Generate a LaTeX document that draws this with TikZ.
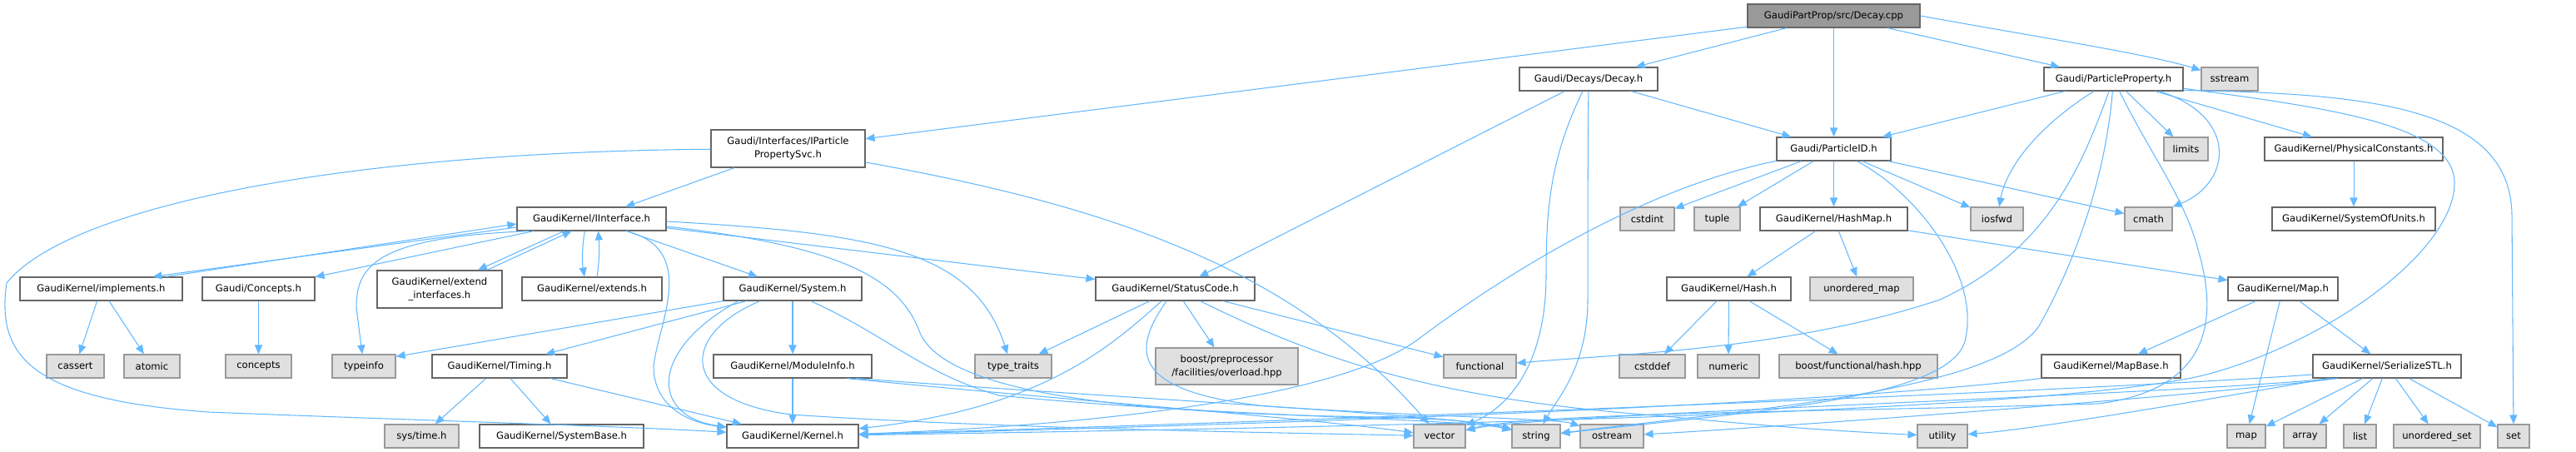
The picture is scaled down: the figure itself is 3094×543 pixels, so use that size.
\documentclass[tikz,border=0pt]{standalone}
\usepackage{fontspec}
\setmainfont{DejaVu Sans}
\usetikzlibrary{arrows.meta,calc}
\definecolor{edgec}{HTML}{63B8FF}
\definecolor{bdark}{HTML}{666666}
\definecolor{blight}{HTML}{999999}
\definecolor{fext}{HTML}{E0E0E0}
\definecolor{froot}{HTML}{999999}
\newcommand\bx[7]{%
  \pgfmathsetmacro\bxw{(#5-#3)*0.01}%
  \pgfmathsetmacro\bxh{(#6-#4)*0.01}%
  \pgfmathsetmacro\bxx{(#3+#5)/2}%
  \pgfmathsetmacro\bxy{(#4+#6)/2}%
  \node[#2, minimum width=\bxw cm, minimum height=\bxh cm] (#1) at (\bxx,\bxy) {#7};}
\tikzset{
  nb/.style={rectangle, draw=bdark, fill=white, line width=0.35pt, inner sep=0pt, align=center, text=black},
  ext/.style={nb, draw=blight, fill=fext},
  rootn/.style={nb, fill=froot},
  ed/.style={draw=edgec, line width=0.3pt, -{Triangle[length=3.1pt,width=2.6pt]}}
}
\begin{document}
\begin{tikzpicture}[x=0.01cm, y=-0.01cm, font=\fontsize{3.3pt}{4.6pt}\selectfont]
\useasboundingbox (0,0) rectangle (3094,543);
% row 0/1
\bx{root}{rootn}{2099}{5}{2306}{33}{GaudiPartProp/src/Decay.cpp}
\bx{decay}{nb}{1825}{81}{1991}{109}{Gaudi/Decays/Decay.h}
\bx{pprop}{nb}{2455}{81}{2622}{109}{Gaudi/ParticleProperty.h}
\bx{sstream}{ext}{2644}{81}{2712}{109}{sstream}
% row 2
\bx{ipps}{nb}{854}{156}{1039}{201}{Gaudi/Interfaces/IParticle\\PropertySvc.h}
\bx{pid}{nb}{2134}{165}{2271}{193}{Gaudi/ParticleID.h}
\bx{limits}{ext}{2599}{165}{2652}{193}{limits}
\bx{physc}{nb}{2720}{165}{2934}{193}{GaudiKernel/PhysicalConstants.h}
% row 3
\bx{iinterface}{nb}{621}{249}{800}{277}{GaudiKernel/IInterface.h}
\bx{cstdint}{ext}{1946}{249}{2011}{277}{cstdint}
\bx{tuple}{ext}{2035}{249}{2090}{277}{tuple}
\bx{hashmap}{nb}{2114}{249}{2291}{277}{GaudiKernel/HashMap.h}
\bx{iosfwd}{ext}{2367}{249}{2430}{277}{iosfwd}
\bx{cmath}{ext}{2552}{249}{2609}{277}{cmath}
\bx{sou}{nb}{2729}{249}{2925}{277}{GaudiKernel/SystemOfUnits.h}
% row 4
\bx{impl}{nb}{24}{333}{219}{361}{GaudiKernel/implements.h}
\bx{conch}{nb}{243}{333}{378}{361}{Gaudi/Concepts.h}
\bx{extendi}{nb}{453}{325}{603}{370}{GaudiKernel/extend\\\_interfaces.h}
\bx{extends}{nb}{627}{333}{795}{361}{GaudiKernel/extends.h}
\bx{system}{nb}{869}{333}{1035}{361}{GaudiKernel/System.h}
\bx{statuscode}{nb}{1316}{333}{1507}{361}{GaudiKernel/StatusCode.h}
\bx{hash}{nb}{2002}{333}{2151}{361}{GaudiKernel/Hash.h}
\bx{umap}{ext}{2174}{333}{2298}{361}{unordered\_map}
\bx{maph}{nb}{2676}{333}{2808}{361}{GaudiKernel/Map.h}
% row 5
\bx{cassert}{ext}{56}{426}{125}{454}{cassert}
\bx{atomic}{ext}{149}{426}{216}{454}{atomic}
\bx{concepts}{ext}{271}{426}{350}{454}{concepts}
\bx{typeinfo}{ext}{399}{426}{475}{454}{typeinfo}
\bx{timing}{nb}{519}{426}{681}{454}{GaudiKernel/Timing.h}
\bx{modinfo}{nb}{857}{426}{1047}{454}{GaudiKernel/ModuleInfo.h}
\bx{typetraits}{ext}{1171}{426}{1263}{454}{type\_traits}
\bx{boostpp}{ext}{1388}{418}{1559}{462}{boost/preprocessor\\/facilities/overload.hpp}
\bx{functional}{ext}{1734}{426}{1821}{454}{functional}
\bx{cstddef}{ext}{1945}{426}{2024}{454}{cstddef}
\bx{numeric}{ext}{2039}{426}{2113}{454}{numeric}
\bx{boosthash}{ext}{2137}{426}{2327}{454}{boost/functional/hash.hpp}
\bx{mapbase}{nb}{2452}{426}{2619}{454}{GaudiKernel/MapBase.h}
\bx{serial}{nb}{2778}{426}{2956}{454}{GaudiKernel/SerializeSTL.h}
% row 6
\bx{systime}{ext}{462}{510}{551}{538}{sys/time.h}
\bx{sysbase}{nb}{576}{510}{773}{538}{GaudiKernel/SystemBase.h}
\bx{kernel}{nb}{873}{510}{1031}{538}{GaudiKernel/Kernel.h}
\bx{vector}{ext}{1698}{510}{1760}{538}{vector}
\bx{string}{ext}{1816}{510}{1874}{538}{string}
\bx{ostream}{ext}{1898}{510}{1974}{538}{ostream}
\bx{utility}{ext}{2303}{510}{2363}{538}{utility}
\bx{map}{ext}{2675}{510}{2721}{538}{map}
\bx{array}{ext}{2743}{510}{2794}{538}{array}
\bx{list}{ext}{2815}{510}{2854}{538}{list}
\bx{uset}{ext}{2875}{510}{2979}{538}{unordered\_set}
\bx{set}{ext}{3000}{510}{3038}{538}{set}

% ---- edges ----
% root
\draw[ed] (root) -- (decay);
\draw[ed] (root) -- (pprop);
\draw[ed] (root) -- (pid);
\draw[ed] (root.east) .. controls (2450,45) and (2580,65) .. (sstream);
\draw[ed] (root) -- (ipps);
% decay
\draw[ed] (decay) -- (pid);
\draw[ed] (decay) -- (statuscode);
\draw[ed] (decay) .. controls (1862,190) and (1857,250) .. (1857,330) .. controls (1857,440) and (1810,490) .. (vector);
\draw[ed] (decay) .. controls (1907,200) and (1907,300) .. (1907,360) .. controls (1907,440) and (1870,480) .. (string);
% particle property
\draw[ed] (pprop) -- (pid);
\draw[ed] (pprop) .. controls (2450,150) and (2410,200) .. (iosfwd);
\draw[ed] (pprop) .. controls (2500,200) and (2460,300) .. (2330,360) .. controls (2150,420) and (1950,425) .. (functional);
\draw[ed] (pprop) .. controls (2530,200) and (2500,300) .. (2450,390) .. controls (2400,470) and (2100,492) .. (string);
\draw[ed] (pprop) .. controls (2580,180) and (2625,240) .. (2640,300) .. controls (2670,400) and (2640,470) .. (2520,485) .. controls (2200,495) and (1850,495) .. (vector);
\draw[ed] ($(pprop.south east)+(0,-1)$) .. controls (2850,112) and (3017,130) .. (3017,260) -- (set);
\draw[ed] (pprop) -- (limits);
\draw[ed] ($(pprop.south)+(55,0)$) .. controls (2690,140) and (2680,220) .. (cmath.north east);
\draw[ed] (pprop) -- (physc);
\draw[ed] (pprop) .. controls (2800,130) and (2948,150) .. (2948,220) .. controls (2948,300) and (2800,410) .. (2650,450) .. controls (2450,500) and (1500,515) .. (kernel);
% physical constants
\draw[ed] (physc) -- (sou);
% particle id
\draw[ed] (pid) .. controls (1980,225) and (1820,320) .. (1700,410) .. controls (1600,480) and (1300,512) .. (kernel);
\draw[ed] (pid) -- (cstdint);
\draw[ed] (pid) -- (tuple);
\draw[ed] (pid) -- (hashmap);
\draw[ed] (pid) .. controls (2300,230) and (2380,330) .. (2360,410) .. controls (2340,480) and (2100,495) .. (string);
\draw[ed] (pid) -- (iosfwd);
\draw[ed] (pid) -- (cmath);
% IParticlePropertySvc
\draw[ed] (ipps) -- (iinterface);
\draw[ed] (ipps) .. controls (400,183) and (80,250) .. (8,340) .. controls (-5,430) and (40,480) .. (250,495) .. controls (500,505) and (750,512) .. (kernel);
\draw[ed] (ipps) .. controls (1350,250) and (1560,330) .. (vector);
% IInterface
\draw[ed] ($(iinterface.west)+(0,10)$) -- ($(impl.north)+(62,0)$);
\draw[ed] ($(impl.north)+(78,0)$) -- ($(iinterface.west)+(0,6)$);
\draw[ed] (iinterface) -- (conch);
\draw[ed] ($(iinterface.south west)+(15,0)$) .. controls (450,285) and (428,320) .. (428,370) -- (typeinfo);
\draw[ed] ($(iinterface.south)+(-33,0)$) -- ($(extendi.north)+(46,0)$);
\draw[ed] ($(extendi.north)+(57,0)$) -- ($(iinterface.south)+(-24,0)$);
\draw[ed] ($(iinterface.south)+(-8,0)$) .. controls (699,295) and (699,315) .. ($(extends.north)+(-9,0)$);
\draw[ed] ($(extends.north)+(6,0)$) .. controls (720,315) and (720,295) .. ($(iinterface.south)+(8,0)$);
\draw[ed] (iinterface) -- (system);
\draw[ed] ($(iinterface.south)+(42,0)$) .. controls (840,300) and (790,390) .. (785,440) .. controls (785,490) and (830,508) .. (kernel);
\draw[ed] (iinterface) -- (statuscode);
\draw[ed] ($(iinterface.east)+(0,3)$) .. controls (1050,280) and (1170,300) .. ($(typetraits.north)+(-7,0)$);
\draw[ed] ($(iinterface.east)+(0,9)$) .. controls (1000,295) and (1080,330) .. (1105,400) .. controls (1140,480) and (1400,495) .. (1600,500) .. controls (1700,502) and (1760,503) .. (string);
% implements, concepts
\draw[ed] (impl) -- (cassert);
\draw[ed] (impl) -- (atomic);
\draw[ed] (conch) -- (concepts);
% System
\draw[ed] (system) -- (timing);
\draw[ed] (system.south west) -- ($(typeinfo.north east)+(0,3)$);
\draw[ed] ($(system.south)+(-65,0)$) .. controls (780,420) and (780,500) .. (kernel);
\draw[ed] ($(system.south)+(-39,0)$) .. controls (820,400) and (810,480) .. (950,498) .. controls (1200,515) and (1550,520) .. (vector);
\draw[ed] (system) -- (modinfo);
\draw[ed] ($(system.south east)+(-62,0)$) .. controls (1060,400) and (1110,450) .. (1200,475) .. controls (1450,500) and (1760,503) .. (string);
% Timing
\draw[ed] (timing) -- (systime);
\draw[ed] (timing) -- (sysbase);
\draw[ed] (timing) -- (kernel);
% ModuleInfo
\draw[ed] (modinfo) -- (kernel);
\draw[ed] ($(modinfo.south east)+(-30,0)$) .. controls (1250,478) and (1550,500) .. (vector);
\draw[ed] ($(modinfo.south east)+(-20,0)$) .. controls (1300,475) and (1760,500) .. (string);
% StatusCode
\draw[ed] (statuscode) -- (typetraits);
\draw[ed] (statuscode) .. controls (1330,420) and (1250,490) .. (kernel);
\draw[ed] (statuscode) -- (boostpp);
\draw[ed] (statuscode) -- (functional);
\draw[ed] (statuscode) .. controls (1360,420) and (1355,470) .. (1520,488) .. controls (1700,500) and (1870,503) .. (ostream);
\draw[ed] ($(statuscode.south)+(30,0)$) .. controls (1580,430) and (1720,480) .. (2000,500) .. controls (2150,515) and (2250,520) .. (utility);
% HashMap, Hash, Map
\draw[ed] (hashmap) -- (hash);
\draw[ed] (hashmap) -- (umap);
\draw[ed] (hashmap) -- (maph);
\draw[ed] (hash) -- (cstddef);
\draw[ed] (hash) -- (numeric);
\draw[ed] (hash) -- (boosthash);
\draw[ed] (maph) -- (mapbase);
\draw[ed] (maph) -- (map);
\draw[ed] (maph) -- (serial);
% MapBase
\draw[ed] (mapbase.south west) .. controls (2200,485) and (1600,508) .. (kernel);
% SerializeSTL
\draw[ed] (serial) -- (map);
\draw[ed] (serial) -- (array);
\draw[ed] (serial) -- (list);
\draw[ed] (serial) -- (uset);
\draw[ed] (serial) -- (set);
\draw[ed] ($(serial.west)+(0,10)$) .. controls (2500,470) and (1600,505) .. (kernel);
\draw[ed] ($(serial.south west)+(25,0)$) .. controls (2600,475) and (1850,497) .. (vector);
\draw[ed] ($(serial.south west)+(30,0)$) .. controls (2600,480) and (2100,515) .. (ostream);
\draw[ed] ($(serial.south west)+(20,0)$) .. controls (2650,480) and (2450,515) .. (utility);
\end{tikzpicture}
\end{document}
